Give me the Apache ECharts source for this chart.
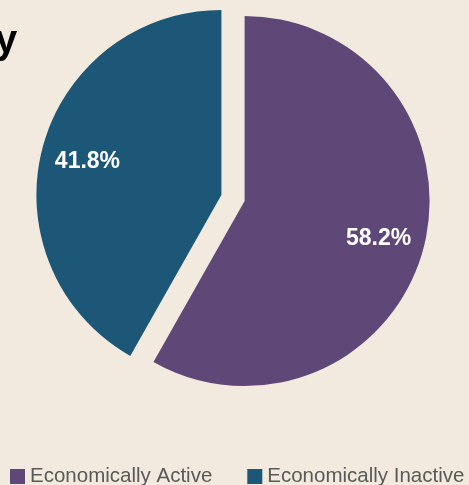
<!DOCTYPE html>
<html>
<head>
<meta charset="utf-8">
<script src="https://cdn.jsdelivr.net/npm/echarts@6/dist/echarts.min.js"></script>
<style>
  html, body { margin: 0; padding: 0; background: #f2eade; }
  #chart { width: 469px; height: 485px; }
</style>
</head>
<body>
<div id="chart"></div>
<script>
// data
var categories = ['Economically Active', 'Economically Inactive'];
var shares = [58.2, 41.8];
var colors = ['#5f4878', '#1d5778'];

var chart = echarts.init(document.getElementById('chart'));

function pieData() {
  return categories.map(function (name, i) {
    return { name: name, value: shares[i], selected: true, itemStyle: { color: colors[i] } };
  });
}

var option = {
  backgroundColor: '#f2eade',
  animation: false,
  graphic: [{
    type: 'text',
    left: -5,
    top: 22,
    style: { text: 'y', font: 'bold 40px "Liberation Sans", Arial', fill: '#000' }
  }],
  legend: {
    data: categories,
    orient: 'horizontal',
    left: 10,
    top: 466,
    width: 600,
    padding: 0,
    icon: 'rect',
    itemWidth: 15,
    itemHeight: 15,
    itemGap: 35,
    selectedMode: false,
    textStyle: { color: '#595959', fontSize: 20.5, fontFamily: 'Liberation Sans' }
  },
  series: [
    {
      // the slices
      type: 'pie',
      center: [233, 198],
      radius: 185,
      startAngle: 90,
      selectedMode: 'multiple',
      selectedOffset: 12,
      label: { show: false },
      labelLine: { show: false },
      emphasis: { disabled: true },
      data: pieData()
    },
    {
      // labels sit at about three quarters of the radius
      type: 'pie',
      center: [233, 200],
      radius: [86, 185],
      startAngle: 90,
      selectedMode: 'multiple',
      selectedOffset: 12,
      silent: true,
      itemStyle: { color: 'transparent' },
      label: {
        show: true,
        position: 'inside',
        formatter: function (p) { return p.value.toFixed(1) + '%'; },
        color: '#fff',
        fontSize: 23,
        fontWeight: 'bold',
        fontFamily: 'Liberation Sans'
      },
      labelLine: { show: false },
      emphasis: { disabled: true },
      data: pieData().map(function (d) { d.itemStyle = { color: 'transparent' }; return d; })
    }
  ]
};

chart.setOption(option);
</script>
</body>
</html>
